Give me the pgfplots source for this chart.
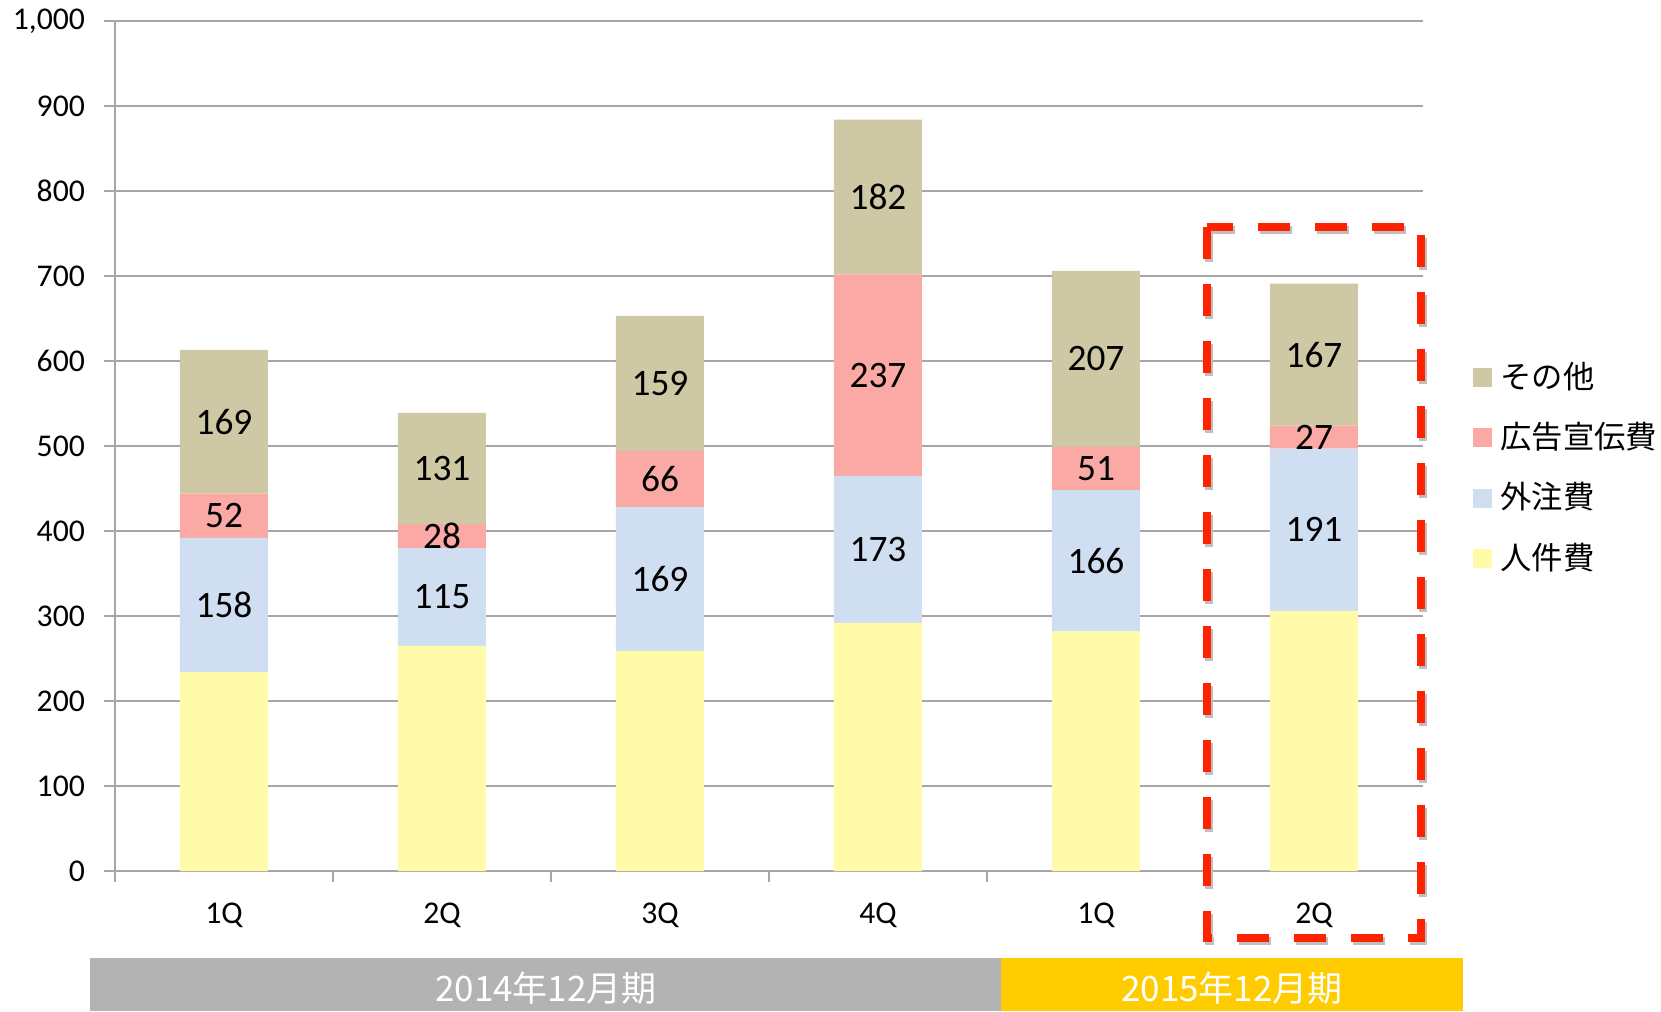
\documentclass[border=0pt]{standalone}
\usepackage{fontspec}
\setmainfont{Carlito}
\newfontfamily\jp{Noto Sans CJK JP}
\usepackage{pgfplots}
\usepackage{pgfplotstable}
\pgfplotsset{compat=1.18}
\definecolor{cYel}{HTML}{FFFBA8}
\definecolor{cBlue}{HTML}{CFDFF1}
\definecolor{cPink}{HTML}{FBA9A5}
\definecolor{cKhaki}{HTML}{CEC8A5}
\definecolor{cGrid}{HTML}{A6A6A6}
\definecolor{cBand}{HTML}{B3B3B3}
\definecolor{cGold}{HTML}{FFCC00}
\definecolor{cRed}{HTML}{FF2200}
% x: quarter index, jinken / gaichu / koukoku / sonota
\pgfplotstableread{
x  jinken gaichu koukoku sonota
0  234    158    52      169
1  265    115    28      131
2  259    169    66      159
3  292    173    237     182
4  282    166    51      207
5  306    191    27      167
}\costs
\begin{document}
\begin{tikzpicture}
% whole picture = 1661 x 1011 px at 0.3pt per px
\path[use as bounding box] (0pt,0pt) rectangle (498.3pt,303.3pt);
\begin{axis}[
    at={(34.5pt,42pt)}, anchor=south west,
    scale only axis,
    width=392.4pt, height=255pt,
    xmin=-0.5, xmax=5.5, ymin=0, ymax=1000,
    ybar stacked, bar width=26.4pt,
    axis lines=left,
    axis line style={-, draw=cGrid, line width=0.6pt},
    tick align=outside,
    major tick length=3.3pt,
    tick style={draw=cGrid, line width=0.6pt},
    xtick={-0.5,0.5,1.5,2.5,3.5,4.5,5.5},
    x tick label as interval,
    xticklabels={1Q,2Q,3Q,4Q,1Q,2Q},
    x tick label style={font=\fontsize{9.5}{11}\selectfont, yshift=-2.8pt},
    ytick={0,100,...,1000},
    y tick label style={font=\fontsize{9.5}{11}\selectfont, xshift=-2.2pt},
    ymajorgrids,
    grid style={draw=cGrid, line width=0.6pt},
    /pgf/number format/assume math mode=true,
    /pgf/number format/1000 sep={,},
    every node near coord/.append style={anchor=center,
        font=\fontsize{11.2}{13}\selectfont},
    every axis plot post/.append style={
        legend image code/.code={\fill[##1] (0pt,-2.85pt) rectangle (5.7pt,2.85pt);}},
    reverse legend,
    legend cell align=left,
    legend style={at={(1.038,0.6167)}, anchor=north west, draw=none, fill=none,
        inner sep=0pt, column sep=2.4pt,
        font=\jp\fontsize{9.4}{11}\selectfont,
        nodes={inner sep=0pt, minimum height=18.1pt}},
]
\addplot[fill=cYel, draw=none] table[x=x, y=jinken] {\costs};
\addplot[fill=cBlue, draw=none,
    visualization depends on={\thisrow{gaichu} \as \segval},
    nodes near coords={\pgfmathprintnumber{\segval}}] table[x=x, y=gaichu] {\costs};
\addplot[fill=cPink, draw=none,
    visualization depends on={\thisrow{koukoku} \as \segval},
    nodes near coords={\pgfmathprintnumber{\segval}}] table[x=x, y=koukoku] {\costs};
\addplot[fill=cKhaki, draw=none,
    visualization depends on={\thisrow{sonota} \as \segval},
    nodes near coords={\pgfmathprintnumber{\segval}}] table[x=x, y=sonota] {\costs};
\legend{人件費,外注費,広告宣伝費,その他}
\end{axis}
\begin{scope}[x=0.3pt,y=-0.3pt,yshift=303.3pt]
\fill[cBand] (90,958) rectangle (1001,1011);
\fill[cGold] (1001,958) rectangle (1463,1011);
\node[text=white, font=\jp\fontsize{10.5}{12}\selectfont] at (546,988) {2014年12月期};
\node[text=white, font=\jp\fontsize{10.5}{12}\selectfont] at (1232,988) {2015年12月期};
\draw[black!25, line width=2.4pt, dash pattern=on 9.6pt off 7.5pt] (1209,230) rectangle (1423,941);
\draw[cRed, line width=2.4pt, dash pattern=on 9.6pt off 7.5pt] (1207,227) rectangle (1421,938);
\end{scope}
\end{tikzpicture}
\end{document}
